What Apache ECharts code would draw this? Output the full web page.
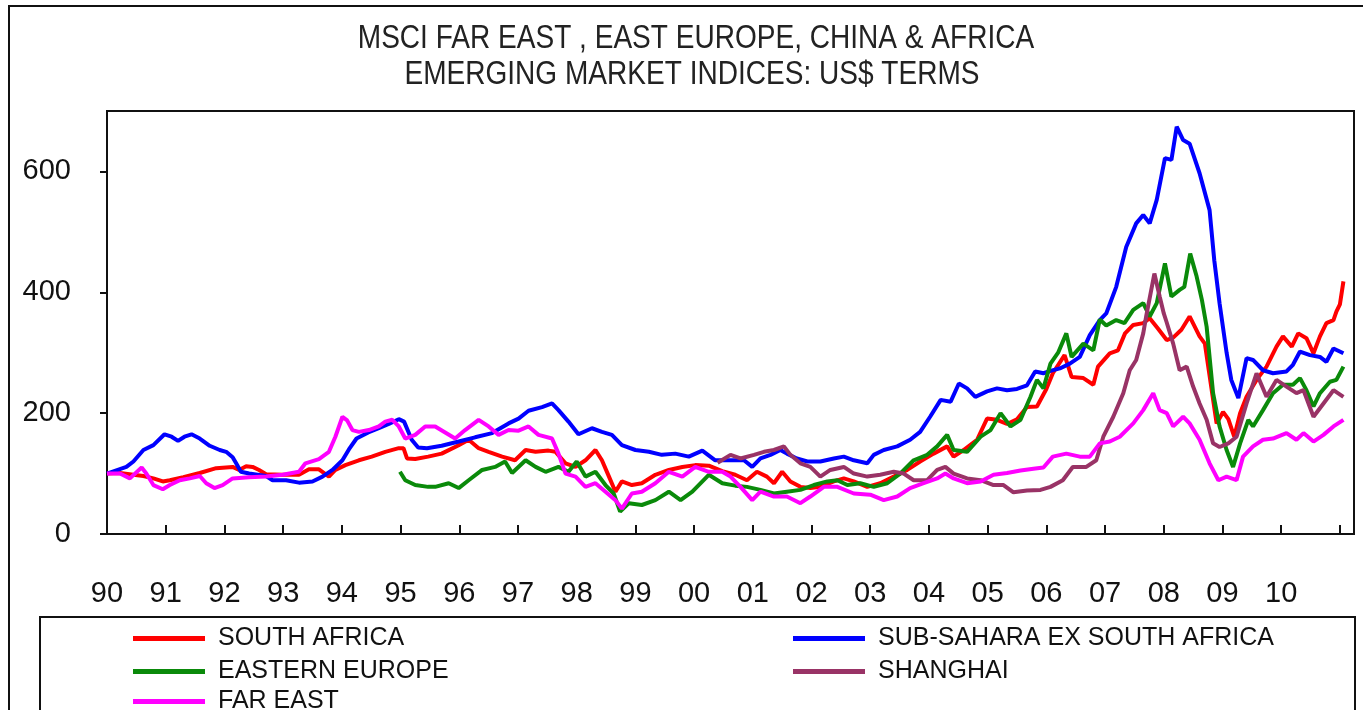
<!DOCTYPE html>
<html>
<head>
<meta charset="utf-8">
<script src="https://cdn.jsdelivr.net/npm/echarts@6/dist/echarts.min.js"></script>
<style>
html,body{margin:0;padding:0;background:#fff;}
#chart{width:1363px;height:710px;}
</style>
</head>
<body>
<div id="chart"></div>
<script>
const titleLines = ['MSCI FAR EAST , EAST EUROPE, CHINA & AFRICA', 'EMERGING MARKET INDICES: US$ TERMS'];
const seriesNames = ['SOUTH AFRICA', 'SUB-SAHARA EX SOUTH AFRICA', 'EASTERN EUROPE', 'SHANGHAI', 'FAR EAST'];
const yTicks = [0, 200, 400, 600];
const xTickYears = [1990,1991,1992,1993,1994,1995,1996,1997,1998,1999,2000,2001,2002,2003,2004,2005,2006,2007,2008,2009,2010,2011];
const xLabelYears = [1990,1991,1992,1993,1994,1995,1996,1997,1998,1999,2000,2001,2002,2003,2004,2005,2006,2007,2008,2009,2010];

const southAfrica = [[1990.00,100],[1990.22,101],[1990.45,98],[1990.62,96],[1990.79,92],[1990.95,87],[1991.07,89],[1991.30,94],[1991.58,101],[1991.86,109],[1992.14,111],[1992.25,106],[1992.37,112],[1992.48,111],[1992.59,106],[1992.71,99],[1992.99,98],[1993.27,98],[1993.44,107],[1993.61,107],[1993.78,95],[1993.89,106],[1994.06,114],[1994.29,122],[1994.51,128],[1994.74,136],[1994.97,142],[1995.05,142],[1995.11,125],[1995.25,124],[1995.47,128],[1995.70,133],[1995.99,147],[1996.16,156],[1996.33,142],[1996.50,136],[1996.73,128],[1996.95,122],[1997.13,139],[1997.30,136],[1997.52,138],[1997.64,136],[1997.81,117],[1997.98,111],[1998.15,122],[1998.32,139],[1998.43,122],[1998.55,95],[1998.66,70],[1998.77,87],[1998.94,81],[1999.11,84],[1999.34,98],[1999.57,106],[1999.80,111],[2000.02,114],[2000.25,113],[2000.48,104],[2000.70,98],[2000.90,89],[2001.07,103],[2001.24,95],[2001.36,84],[2001.50,103],[2001.64,87],[2001.81,78],[2001.98,76],[2002.15,78],[2002.38,87],[2002.55,92],[2002.72,87],[2002.95,78],[2003.17,84],[2003.40,95],[2003.63,106],[2003.85,120],[2004.08,133],[2004.31,145],[2004.42,128],[2004.59,139],[2004.82,156],[2004.99,191],[2005.16,189],[2005.33,182],[2005.50,190],[2005.67,210],[2005.84,211],[2006.00,240],[2006.11,266],[2006.31,296],[2006.43,260],[2006.63,258],[2006.80,247],[2006.88,277],[2007.08,299],[2007.22,304],[2007.34,332],[2007.48,346],[2007.65,349],[2007.76,357],[2007.90,340],[2008.05,321],[2008.16,325],[2008.30,338],[2008.44,360],[2008.61,327],[2008.70,315],[2008.90,183],[2009.01,202],[2009.10,190],[2009.20,161],[2009.30,200],[2009.41,227],[2009.58,255],[2009.75,277],[2009.92,310],[2010.03,327],[2010.18,310],[2010.29,332],[2010.43,324],[2010.55,299],[2010.66,327],[2010.77,349],[2010.89,354],[2010.94,368],[2011.00,380],[2011.06,418]];

const subSahara = [[1990.00,100],[1990.33,111],[1990.45,120],[1990.62,139],[1990.79,147],[1990.98,165],[1991.10,161],[1991.21,154],[1991.32,161],[1991.44,165],[1991.58,158],[1991.75,146],[1991.92,139],[1992.03,136],[1992.14,127],[1992.20,117],[1992.28,103],[1992.42,100],[1992.71,96],[1992.82,89],[1993.05,89],[1993.27,85],[1993.50,87],[1993.67,95],[1993.84,106],[1994.01,122],[1994.12,140],[1994.25,158],[1994.45,168],[1994.65,176],[1994.80,182],[1994.97,190],[1995.06,186],[1995.19,156],[1995.30,143],[1995.45,142],[1995.70,146],[1995.99,153],[1996.27,160],[1996.56,167],[1996.84,183],[1997.01,191],[1997.18,204],[1997.41,210],[1997.58,216],[1997.69,205],[1997.86,186],[1998.03,165],[1998.26,175],[1998.43,169],[1998.60,164],[1998.77,147],[1999.00,139],[1999.23,136],[1999.45,131],[1999.68,133],[1999.91,128],[2000.14,138],[2000.36,122],[2000.59,122],[2000.85,122],[2000.99,111],[2001.13,125],[2001.30,131],[2001.47,139],[2001.58,133],[2001.75,125],[2001.93,120],[2002.15,120],[2002.38,125],[2002.55,128],[2002.72,122],[2002.95,117],[2003.06,131],[2003.23,139],[2003.46,145],[2003.68,156],[2003.85,169],[2004.02,194],[2004.20,222],[2004.37,219],[2004.51,249],[2004.65,241],[2004.79,227],[2004.99,236],[2005.16,241],[2005.33,238],[2005.50,240],[2005.67,246],[2005.81,269],[2005.95,266],[2006.07,270],[2006.23,274],[2006.40,282],[2006.57,293],[2006.74,329],[2006.91,354],[2007.02,365],[2007.19,409],[2007.36,475],[2007.53,514],[2007.65,528],[2007.76,514],[2007.88,553],[2008.02,622],[2008.13,619],[2008.22,674],[2008.33,652],[2008.44,646],[2008.61,597],[2008.78,536],[2008.86,453],[2008.95,382],[2009.07,300],[2009.15,255],[2009.27,225],[2009.41,291],[2009.52,288],[2009.69,271],[2009.86,266],[2010.09,269],[2010.20,280],[2010.32,302],[2010.49,296],[2010.66,293],[2010.77,285],[2010.89,307],[2011.06,299]];

const easternEurope = [[1994.99,103],[1995.08,89],[1995.25,81],[1995.47,78],[1995.59,78],[1995.82,84],[1995.99,76],[1996.16,89],[1996.39,106],[1996.61,111],[1996.78,120],[1996.90,101],[1997.13,122],[1997.30,111],[1997.47,103],[1997.69,111],[1997.86,103],[1998.00,120],[1998.15,95],[1998.32,103],[1998.49,81],[1998.63,67],[1998.74,37],[1998.89,51],[1999.11,48],[1999.34,56],[1999.57,70],[1999.77,56],[1999.97,70],[2000.25,98],[2000.48,84],[2000.70,80],[2000.90,78],[2001.13,73],[2001.36,67],[2001.58,70],[2001.81,73],[2002.04,81],[2002.27,87],[2002.44,89],[2002.61,81],[2002.83,84],[2003.06,78],[2003.29,84],[2003.51,100],[2003.74,122],[2003.97,131],[2004.14,145],[2004.31,164],[2004.42,139],[2004.65,136],[2004.88,161],[2005.05,172],[2005.22,200],[2005.39,178],[2005.56,189],[2005.73,227],[2005.84,255],[2005.95,241],[2006.07,282],[2006.20,300],[2006.34,332],[2006.43,293],[2006.63,315],[2006.80,304],[2006.91,355],[2007.02,345],[2007.19,354],[2007.33,349],[2007.48,371],[2007.65,382],[2007.76,360],[2007.88,382],[2008.02,448],[2008.13,393],[2008.27,404],[2008.35,409],[2008.45,464],[2008.56,426],[2008.65,387],[2008.73,343],[2008.84,233],[2008.95,178],[2009.07,139],[2009.18,111],[2009.30,150],[2009.44,189],[2009.52,178],[2009.69,205],[2009.86,233],[2010.03,247],[2010.20,247],[2010.32,258],[2010.43,238],[2010.55,211],[2010.66,233],[2010.83,252],[2010.94,255],[2011.06,277]];

const shanghai = [[2000.40,118],[2000.62,131],[2000.79,125],[2001.02,131],[2001.19,136],[2001.36,139],[2001.53,145],[2001.64,131],[2001.81,117],[2001.98,111],[2002.15,95],[2002.32,106],[2002.55,111],[2002.72,100],[2002.95,95],[2003.17,98],[2003.40,103],[2003.57,100],[2003.74,89],[2003.97,89],[2004.14,106],[2004.28,111],[2004.42,100],[2004.65,92],[2004.88,89],[2005.10,81],[2005.27,81],[2005.44,69],[2005.67,72],[2005.90,73],[2006.07,78],[2006.28,89],[2006.45,111],[2006.68,111],[2006.85,122],[2006.97,161],[2007.14,194],[2007.31,233],[2007.42,271],[2007.53,288],[2007.65,332],[2007.70,360],[2007.84,431],[2007.93,393],[2008.00,365],[2008.05,350],[2008.16,315],[2008.27,271],[2008.39,277],[2008.50,244],[2008.61,216],[2008.73,189],[2008.84,150],[2008.95,144],[2009.10,150],[2009.24,161],[2009.41,216],[2009.58,266],[2009.75,227],[2009.92,255],[2010.09,244],[2010.26,233],[2010.38,238],[2010.55,194],[2010.72,216],[2010.89,238],[2011.06,227]];

const farEast = [[1990.00,100],[1990.22,100],[1990.39,92],[1990.59,110],[1990.67,100],[1990.79,81],[1990.95,74],[1991.07,81],[1991.24,89],[1991.41,92],[1991.58,96],[1991.69,84],[1991.83,76],[1991.97,81],[1992.14,92],[1992.42,94],[1992.71,95],[1992.99,98],[1993.27,103],[1993.38,117],[1993.61,124],[1993.78,136],[1993.89,161],[1994.01,194],[1994.09,188],[1994.18,172],[1994.29,169],[1994.46,172],[1994.63,178],[1994.74,186],[1994.86,189],[1994.97,178],[1995.08,158],[1995.25,164],[1995.42,178],[1995.59,178],[1995.76,168],[1995.93,158],[1996.10,172],[1996.33,189],[1996.50,178],[1996.67,164],[1996.84,172],[1997.01,171],[1997.18,178],[1997.35,164],[1997.58,158],[1997.69,133],[1997.81,100],[1997.98,95],[1998.15,78],[1998.32,84],[1998.49,70],[1998.66,56],[1998.77,42],[1998.94,67],[1999.11,70],[1999.34,84],[1999.57,103],[1999.80,95],[2000.02,111],[2000.25,103],[2000.48,103],[2000.62,95],[2000.79,78],[2000.99,56],[2001.13,70],[2001.36,62],[2001.58,62],[2001.81,51],[2001.98,62],[2002.21,78],[2002.44,78],[2002.72,67],[2003.00,65],[2003.23,56],[2003.46,62],[2003.68,76],[2003.91,84],[2004.14,92],[2004.28,100],[2004.42,92],[2004.65,84],[2004.88,87],[2005.10,98],[2005.33,101],[2005.56,105],[2005.78,108],[2005.95,110],[2006.11,128],[2006.34,133],[2006.57,128],[2006.74,128],[2006.91,150],[2007.08,153],[2007.25,161],[2007.48,183],[2007.65,205],[2007.82,233],[2007.93,205],[2008.05,200],[2008.16,178],[2008.33,194],[2008.44,183],[2008.61,156],[2008.78,117],[2008.93,89],[2009.07,95],[2009.24,89],[2009.35,128],[2009.52,145],[2009.69,156],[2009.86,158],[2010.09,167],[2010.26,156],[2010.38,167],[2010.55,153],[2010.72,164],[2010.89,178],[2011.06,189]];

const seriesData = [southAfrica, subSahara, easternEurope, shanghai, farEast];
const seriesColors = ['#ff0000', '#0000ff', '#0a8a0a', '#993366', '#ff00ff'];

const FONT = '"Liberation Sans", Arial, sans-serif';
const chart = echarts.init(document.getElementById('chart'), null, {renderer: 'canvas'});

const legendText = {fontSize: 25, fontFamily: FONT, color: '#111', lineHeight: 27, padding: [0, 0, 0, 8]};
// legend slots: [series index, left, top]
const legendSlots = [[0, 133, 625], [1, 793, 625], [2, 133, 658], [3, 793, 658], [4, 133, 688]];

const option = {
  animation: false,
  backgroundColor: '#fff',
  grid: {left: 107, right: 9, top: 111, bottom: 176, show: true, borderColor: '#111', borderWidth: 2, backgroundColor: 'transparent'},
  xAxis: {
    type: 'value', min: 1990, max: 2011.24, interval: 1,
    axisLine: {show: true, onZero: false, lineStyle: {color: '#111', width: 2}},
    axisTick: {show: true, inside: true, length: 9, lineStyle: {color: '#111', width: 2}, customValues: xTickYears},
    axisLabel: {
      show: true, margin: 45, fontSize: 29, fontFamily: FONT, color: '#111', lineHeight: 29,
      customValues: xLabelYears,
      formatter: v => (Math.abs(v - Math.round(v)) < 1e-6 && v <= 2010) ? String(Math.round(v)).slice(2) : ''
    },
    splitLine: {show: false}
  },
  yAxis: {
    type: 'value', min: 0, max: 700, interval: 100,
    axisLine: {show: true, lineStyle: {color: '#111', width: 2}},
    axisTick: {show: true, inside: false, length: 7, lineStyle: {color: '#111', width: 2}, customValues: yTicks},
    axisLabel: {
      show: true, margin: 36, fontSize: 29, fontFamily: FONT, color: '#111', customValues: yTicks,
      formatter: v => (yTicks.indexOf(v) >= 0 ? String(v) : '')
    },
    splitLine: {show: false}
  },
  legend: legendSlots.map(s => ({
    data: [seriesNames[s[0]]], orient: 'horizontal', left: s[1], top: s[2], padding: 0,
    itemWidth: 72, itemHeight: 5, icon: 'rect', textStyle: legendText, selectedMode: false
  })),
  graphic: [
    {type: 'rect', z: 100, silent: true, shape: {x: 9, y: 6, width: 1420, height: 800}, style: {fill: 'none', stroke: '#111', lineWidth: 2}},
    {type: 'rect', z: 100, silent: true, shape: {x: 40, y: 617, width: 1315, height: 200}, style: {fill: 'none', stroke: '#111', lineWidth: 2}},
    {type: 'text', z: 100, silent: true, x: 696, y: 39, scaleX: 0.85, style: {text: titleLines[0], fontSize: 33, fontFamily: FONT, fill: '#222', align: 'center', verticalAlign: 'middle'}},
    {type: 'text', z: 100, silent: true, x: 692, y: 75, scaleX: 0.85, style: {text: titleLines[1], fontSize: 33, fontFamily: FONT, fill: '#222', align: 'center', verticalAlign: 'middle'}}
  ],
  series: seriesNames.map((name, i) => ({
    name: name, type: 'line', data: seriesData[i], showSymbol: false, symbol: 'none',
    lineStyle: {color: seriesColors[i], width: 4}, itemStyle: {color: seriesColors[i]},
    z: 2 + i, clip: true
  }))
};
chart.setOption(option);
</script>
</body>
</html>
